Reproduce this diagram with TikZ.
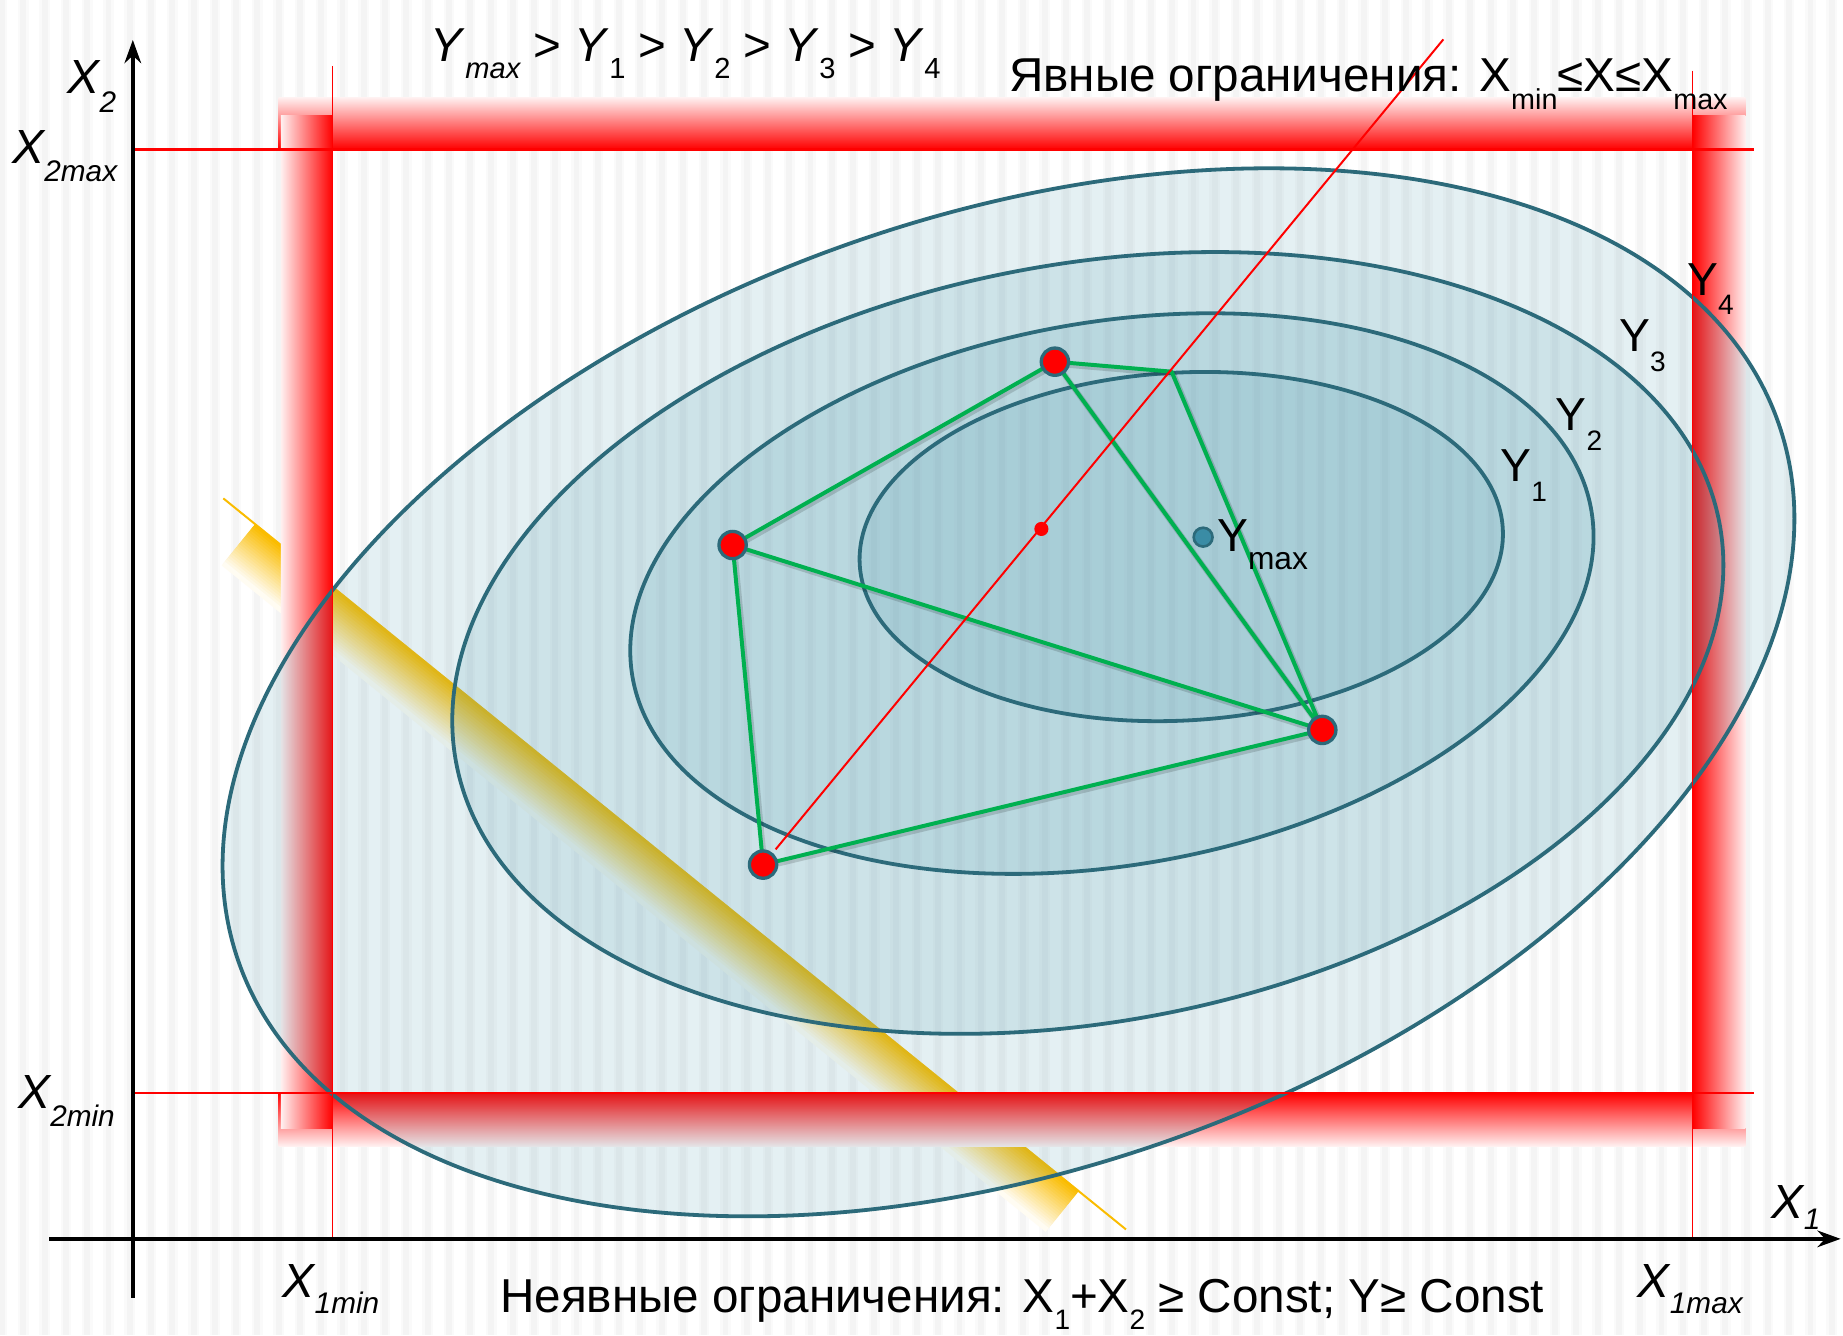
\documentclass[tikz,border=0pt]{standalone}
\usepackage{fontspec}
\setmainfont{Liberation Sans}
\usetikzlibrary{arrows.meta,calc}
\definecolor{LevelLine}{RGB}{44,106,122}
\definecolor{LevelFill}{RGB}{70,150,172}
\definecolor{SimplexGreen}{RGB}{0,176,80}
\definecolor{BandYellow}{RGB}{250,188,0}
\definecolor{PointTeal}{RGB}{58,140,165}
\newcommand{\subtxt}[3]{\raisebox{-#1}{\fontsize{#2}{#2}\selectfont #3}}

\begin{document}
\begin{tikzpicture}[x=0.0125cm,y=-0.0125cm,
  every node/.style={inner sep=0pt,anchor=base west},
  level/.style={draw=LevelLine,line width=1.15pt,fill=LevelFill,fill opacity=0.14},
  limit/.style={red,line width=0.8pt},
  edge/.style={SimplexGreen,line width=1.2pt,line join=round,
    preaction={draw=black,opacity=0.15,line width=1.7pt,transform canvas={shift={(0.5pt,-0.7pt)}}}},
  vertex/.style={circle,fill=red,draw=LevelLine,line width=1pt,minimum size=0.29cm,anchor=center},
  axis/.style={black,line width=1.15pt,-{Stealth[length=7pt,width=5pt]}},
  biglbl/.style={font=\fontsize{14.4}{16}\selectfont},
  xlbl/.style={font=\fontsize{14.5}{16}\selectfont\itshape},
  ylbl/.style={font=\fontsize{14}{16}\selectfont}]

% background with stripes
\useasboundingbox (0,0) rectangle (1568,1136);
\fill[white] (0,0) rectangle (1568,1136);
\foreach \i in {0,...,86}{
  \fill[black!2] ({18.1*\i-2.7},0) rectangle ++(9,1136);
  \fill[black!4.5] ({18.1*\i-0.7},0) rectangle ++(5,1136);
}

% implicit constraint band
\foreach \k in {0,...,19}{
  \pgfmathtruncatemacro\pct{100-5*\k}
  \fill[BandYellow!\pct!white,shift={({-1.353*\k},{1.671*\k})}]
    (217,446) -- (918,1013) -- (915.3,1016.3) -- (214.3,449.3) -- cycle;
}
\draw[BandYellow,line width=0.6pt] (190,424) coordinate (bandstart) -- (958,1046) coordinate (bandend);

% explicit constraint bars
\shade[top color=red!6,bottom color=red] (237,83) rectangle (1485,127);
\shade[top color=red,bottom color=red!6] (237,930) rectangle (1485,975);
\shade[left color=red!6,right color=red] (239,98) rectangle (283,960);
\shade[left color=red,right color=red!6] (1440,98) rectangle (1485,960);

% level lines Y4 ... Y1
\draw[level,rotate around={19.3:(858,589)}] (858,589) ellipse [x radius=694,y radius=405];
\draw[level,rotate around={10.8:(925.5,547)}] (925.5,547) ellipse [x radius=547,y radius=322];
\draw[level,rotate around={9.9:(946,505)}] (946,505) ellipse [x radius=414,y radius=231];
\draw[level,rotate around={3.2:(1005,465)}] (1005,465) ellipse [x radius=274,y radius=148];

% limits
\draw[limit] (113,127) -- (1492,127);
\draw[limit] (113,930) -- (1492,930);
\draw[red,line width=0.5pt] (283,56) -- (283,1054);
\draw[red,line width=0.5pt] (1440,60) -- (1440,1054);

% axes
\draw[axis] (113,1104) -- (113,34);
\draw[axis] (42,1054) -- (1566,1054);

% simplex
\coordinate (A) at (897.5,307.7);
\coordinate (B) at (623.3,463.7);
\coordinate (C) at (649.2,735.6);
\coordinate (D) at (1125,621);
\coordinate (P) at (996.8,316.2);
\coordinate (M) at (886,450);
\coordinate (ray) at (1228,33.5);
\draw[edge] (B) -- (A) -- (P) -- (D) -- (C) -- (B) -- (D) -- (A);
\draw[red,line width=0.6pt,shorten <=0.21cm] (C) -- (ray);
\node[vertex] (dotA) at (A) {};
\node[vertex] (dotB) at (B) {};
\node[vertex] (dotC) at (C) {};
\node[vertex] (dotD) at (D) {};
\node[circle,fill=red,minimum size=0.15cm,anchor=center] (centre) at (M) {};
\node[circle,fill=PointTeal,draw=LevelLine,line width=0.8pt,minimum size=0.2cm,anchor=center] (ymaxdot) at (1023.6,457) {};

% labels
\node[ylbl] (lblymax) at (1035,469) {Y\subtxt{5.5pt}{9.6}{max}};
\node[ylbl] (lbly1) at (1276,410) {Y\subtxt{6pt}{8.5}{1}};
\node[ylbl] (lbly2) at (1323,366) {Y\subtxt{6pt}{8.5}{2}};
\node[ylbl] (lbly3) at (1377,299) {Y\subtxt{6pt}{8.5}{3}};
\node[ylbl] (lbly4) at (1435,251) {Y\subtxt{6pt}{8.5}{4}};
\node[biglbl] (order) at (366,52.5) {\textit{Y}\subtxt{5pt}{8.8}{\itshape max} > \textit{Y}\subtxt{5pt}{8.8}{1} > \textit{Y}\subtxt{5pt}{8.8}{2} > \textit{Y}\subtxt{5pt}{8.8}{3} > \textit{Y}\subtxt{5pt}{8.8}{4}};
\node[biglbl] (explicit) at (858,78) {Явные ограничения: X\subtxt{5.5pt}{8.7}{min}≤X≤X\subtxt{5.5pt}{8.7}{max}};
\node[biglbl] (implicit) at (425,1117) {Неявные ограничения: X\subtxt{5pt}{8.5}{1}+X\subtxt{5pt}{8.5}{2} ≥ Const; Y≥ Const};
\node[xlbl] (x2lbl) at (57,79.4) {X\subtxt{5.7pt}{9}{2}};
\node[xlbl] (x2maxlbl) at (10,139) {X\subtxt{5.5pt}{9}{2max}};
\node[xlbl] (x2minlbl) at (15,943) {X\subtxt{5.5pt}{9}{2min}};
\node[xlbl] (x1minlbl) at (240,1103.5) {X\subtxt{5pt}{9}{1min}};
\node[xlbl] (x1maxlbl) at (1393,1103.5) {X\subtxt{5pt}{9}{1max}};
\node[xlbl] (x1lbl) at (1507,1036.5) {X\subtxt{3.5pt}{9}{1}};
\end{tikzpicture}
\end{document}
